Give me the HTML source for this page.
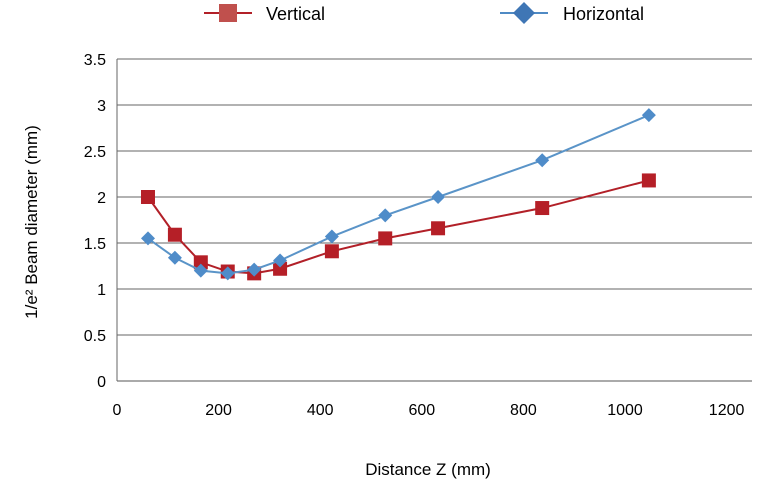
<!DOCTYPE html>
<html><head><meta charset="utf-8"><style>
body{margin:0;background:#fff;}
svg{display:block;font-family:"Liberation Sans",Arial,sans-serif;}
</style></head><body>
<svg id="chart" width="768" height="491" viewBox="0 0 768 491">
<g id="grid"></g>
<g id="axes"></g>
<g id="series"></g>
<g>
  <g>
    <line x1="204" y1="13" x2="252" y2="13" stroke="#b22028" stroke-width="2"/>
    <rect x="219" y="4" width="18" height="18" fill="#c0504d"/>
    <text x="266" y="20" font-size="18" fill="#000">Vertical</text>
  </g>
  <g>
    <line x1="500" y1="13" x2="548" y2="13" stroke="#4f8ac4" stroke-width="2"/>
    <polygon points="524,2 535,13 524,24 513,13" fill="#3f76b5"/>
    <text x="563" y="20" font-size="18" fill="#000">Horizontal</text>
  </g>
</g>
<text transform="translate(37,222) rotate(-90)" text-anchor="middle" font-size="17">1/e² Beam diameter (mm)</text>
<text x="428" y="475" text-anchor="middle" font-size="17">Distance Z (mm)</text>
</svg>
<script>
const xValues = [61, 114, 165, 218, 270, 321, 423, 528, 632, 837, 1047];
const verticalValues = [2.0, 1.59, 1.29, 1.19, 1.17, 1.22, 1.41, 1.55, 1.66, 1.88, 2.18];
const horizontalValues = [1.55, 1.34, 1.20, 1.17, 1.21, 1.31, 1.57, 1.80, 2.00, 2.40, 2.89];
const xTicks = [0, 200, 400, 600, 800, 1000, 1200];
const yTicks = [0, 0.5, 1, 1.5, 2, 2.5, 3, 3.5];

const NS = "http://www.w3.org/2000/svg";
const X0 = 117, X1 = 752, XMAX = 1250, Y0 = 381, Y1 = 59, YMAX = 3.5;
const sx = v => X0 + v / XMAX * (X1 - X0);
const sy = v => Y0 - v / YMAX * (Y0 - Y1);
function mk(tag, attrs, parent) {
  const e = document.createElementNS(NS, tag);
  for (const k in attrs) e.setAttribute(k, attrs[k]);
  parent.appendChild(e);
  return e;
}
const grid = document.getElementById('grid');
const axes = document.getElementById('axes');
const series = document.getElementById('series');

yTicks.forEach(t => {
  const l = mk('line', {x1: X0, x2: X1, y1: sy(t), y2: sy(t), stroke: t === 0 ? '#555' : '#666', 'stroke-width': 1}, grid);
  
  
  const tx = mk('text', {x: 106, y: sy(t) + 6, 'text-anchor': 'end', 'font-size': 16}, axes);
  tx.textContent = t;
  
  
});
const ya = mk('line', {x1: X0, x2: X0, y1: Y1, y2: Y0, stroke: '#666', 'stroke-width': 1}, axes);


xTicks.forEach(t => {
  const tx = mk('text', {x: sx(t), y: 415, 'text-anchor': 'middle', 'font-size': 16}, axes);
  tx.textContent = t;
  
  
});

function drawSeries(vals, color, markerColor, shape, name) {
  const g = mk('g', {}, series);
  
  
  const pts = vals.map((v, i) => sx(xValues[i]) + ',' + sy(v)).join(' ');
  const pl = mk('polyline', {points: pts, fill: 'none', stroke: color, 'stroke-width': 2}, g);
  
  
  vals.forEach((v, i) => {
    const cx = sx(xValues[i]), cy = sy(v);
    let m;
    if (shape === 'square') m = mk('rect', {x: cx - 7, y: cy - 7, width: 14, height: 14, fill: markerColor}, g);
    else m = mk('polygon', {points: `${cx},${cy-7} ${cx+7},${cy} ${cx},${cy+7} ${cx-7},${cy}`, fill: markerColor}, g);
    
    
  });
}
drawSeries(verticalValues, '#b22028', '#b51f27', 'square', 'vertical');
drawSeries(horizontalValues, '#5a94c8', '#4f8cc9', 'diamond', 'horizontal');
</script>
</body></html>
